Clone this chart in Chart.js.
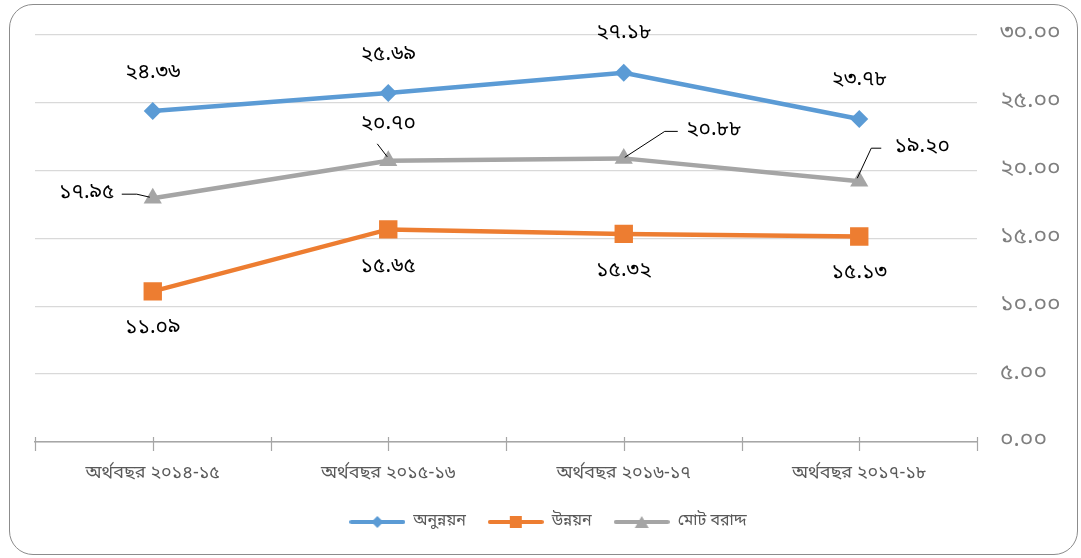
<!DOCTYPE html>
<html>
<head>
<meta charset="utf-8">
<script src="https://cdn.jsdelivr.net/npm/chart.js@4"></script>
<style>
  html, body { margin: 0; padding: 0; background: #ffffff; }
  #wrap { position: relative; width: 1081px; height: 558px; }
  #frame {
    position: absolute; left: 9px; top: 4px; width: 1069px; height: 551px;
    border: 1.5px solid #8c8c8c; border-radius: 24px; box-sizing: border-box;
  }
  #c { position: absolute; left: 0; top: 0; }
</style>
</head>
<body>
<div id="wrap">
  <div id="frame"></div>
  <canvas id="c" width="1081" height="558"></canvas>
</div>
<script>
// অর্থবছর ভিত্তিক বরাদ্দ (শতাংশ)
const categories = ['অর্থবছর ২০১৪-১৫', 'অর্থবছর ২০১৫-১৬', 'অর্থবছর ২০১৬-১৭', 'অর্থবছর ২০১৭-১৮'];
const seriesNames = ['অনুন্নয়ন', 'উন্নয়ন', 'মোট বরাদ্দ'];
const nonDevelopment = [24.36, 25.69, 27.18, 23.78];
const development = [11.09, 15.65, 15.32, 15.13];
const totalAllocation = [17.95, 20.70, 20.88, 19.20];
const yTicks = [0, 5, 10, 15, 20, 25, 30];

const BN_DIGITS = ['০','১','২','৩','৪','৫','৬','৭','৮','৯'];
function toBn(str) { return String(str).replace(/[0-9]/g, d => BN_DIGITS[+d]); }
function fmt(v) { return toBn(v.toFixed(2)); }

const FONT = "'Noto Sans Bengali', 'Lohit Bengali', 'Noto Sans', sans-serif";
const colors = ['#5B9BD5', '#ED7D31', '#A5A5A5'];
const styles = ['rectRot', 'rect', 'triangle'];

// legend swatch: a short line with the series marker in the middle
function swatch(color, style) {
  const cv = document.createElement('canvas');
  cv.width = 56; cv.height = 14;
  const g = cv.getContext('2d');
  g.strokeStyle = color; g.lineWidth = 4; g.lineCap = 'round';
  g.beginPath(); g.moveTo(2, 7); g.lineTo(54, 7); g.stroke();
  g.fillStyle = color;
  g.beginPath();
  if (style === 'rectRot') { g.moveTo(28, 1); g.lineTo(34, 7); g.lineTo(28, 13); g.lineTo(22, 7); }
  else if (style === 'rect') { g.rect(22, 1, 12, 12); }
  else { g.moveTo(28, 1); g.lineTo(35, 13); g.lineTo(21, 13); }
  g.closePath(); g.fill();
  return cv;
}
const swatches = colors.map((c, i) => swatch(c, styles[i]));

// label placement per series (offsets from the point, px)
const labelPlacement = [
  { dx: [0, 0, 0, 0], dy: [-37, -37, -39, -38], leader: false },
  { dx: [0, 0, 0, 0], dy: [38, 39, 38, 37], leader: false },
  { dx: [-66, 0, 90, 63], dy: [-4, -36, -27, -33], leader: true }
];

const dataLabels = {
  id: 'dataLabels',
  afterDatasetsDraw(chart) {
    const ctx = chart.ctx;
    ctx.save();
    ctx.font = '21px ' + FONT;
    ctx.fillStyle = '#000000';
    ctx.textAlign = 'center';
    ctx.textBaseline = 'middle';
    chart.data.datasets.forEach((ds, di) => {
      const meta = chart.getDatasetMeta(di);
      const pl = labelPlacement[di];
      meta.data.forEach((pt, i) => {
        const lx = pt.x + pl.dx[i];
        const ly = pt.y + pl.dy[i];
        if (pl.leader) {
          ctx.strokeStyle = '#000000';
          ctx.lineWidth = 1;
          ctx.beginPath();
          if (i === 0) {
            ctx.moveTo(lx + 35, ly); ctx.lineTo(lx + 50, ly); ctx.lineTo(pt.x - 3, pt.y - 1);
          } else if (i === 1) {
            ctx.moveTo(pt.x - 11, pt.y - 17); ctx.lineTo(pt.x - 1, pt.y - 4);
          } else if (i === 2) {
            ctx.moveTo(lx - 36, ly); ctx.lineTo(lx - 49, ly); ctx.lineTo(pt.x + 1, pt.y - 1);
          } else {
            ctx.moveTo(lx - 41, ly); ctx.lineTo(lx - 51, ly); ctx.lineTo(pt.x - 2, pt.y - 3);
          }
          ctx.stroke();
        }
        ctx.fillText(fmt(ds.data[i]), lx, ly);
      });
    });
    ctx.restore();
  }
};

// ticks at category centres and boundaries, crossing the axis line
const axisTicks = {
  id: 'axisTicks',
  afterDraw(chart) {
    const x = chart.scales.x;
    const ctx = chart.ctx;
    ctx.save();
    ctx.strokeStyle = '#a6a6a6';
    ctx.lineWidth = 1.2;
    const n = categories.length;
    const draw = px => {
      px = Math.round(px) + 0.5;
      ctx.beginPath(); ctx.moveTo(px, x.top - 5); ctx.lineTo(px, x.top + 9); ctx.stroke();
    };
    categories.forEach((_, i) => draw(x.getPixelForValue(i)));
    for (let i = 0; i <= n; i++) draw(x.left + (x.right - x.left) * i / n);
    ctx.restore();
  }
};

const mk = (label, data, i, radius) => ({
  label, data,
  borderColor: colors[i], backgroundColor: colors[i],
  borderWidth: 4.5, pointStyle: styles[i], pointRadius: radius, pointHoverRadius: radius,
  pointBorderWidth: 0, tension: 0
});

new Chart(document.getElementById('c'), {
  type: 'line',
  data: {
    labels: categories,
    datasets: [
      mk(seriesNames[0], nonDevelopment, 0, 9),
      mk(seriesNames[1], development, 1, 13),
      mk(seriesNames[2], totalAllocation, 2, 10.5)
    ]
  },
  options: {
    responsive: false,
    animation: false,
    devicePixelRatio: 1,
    layout: { padding: { left: 35, top: 17, right: 20, bottom: 18 } },
    plugins: {
      tooltip: { enabled: false },
      legend: {
        position: 'bottom',
        labels: {
          font: { family: FONT, size: 16 },
          color: '#595959',
          usePointStyle: true,
          pointStyleWidth: 56,
          padding: 22,
          generateLabels(chart) {
            return chart.data.datasets.map((ds, i) => ({
              text: ds.label, pointStyle: swatches[i], fillStyle: colors[i],
              strokeStyle: colors[i], lineWidth: 0, datasetIndex: i, hidden: false,
              fontColor: '#595959'
            }));
          }
        }
      }
    },
    scales: {
      x: {
        offset: true,
        grid: { display: false },
        border: { color: '#a6a6a6', width: 1.5 },
        ticks: { font: { family: FONT, size: 18 }, color: '#595959', padding: 14, maxRotation: 0 },
        afterFit(s) { s.height = 50; }
      },
      y: {
        position: 'right',
        min: 0, max: 30,
        afterBuildTicks(s) { s.ticks = yTicks.map(v => ({ value: v })); },
        grid: { color: '#d9d9d9', lineWidth: 1.2, drawTicks: false },
        border: { display: false },
        ticks: {
          font: { family: FONT, size: 23, lineHeight: 1 }, color: '#7f7f7f', padding: 23,
          callback: v => fmt(v)
        },
        afterFit(s) { s.width = 84; }
      }
    }
  },
  plugins: [dataLabels, axisTicks]
});
</script>
</body>
</html>
